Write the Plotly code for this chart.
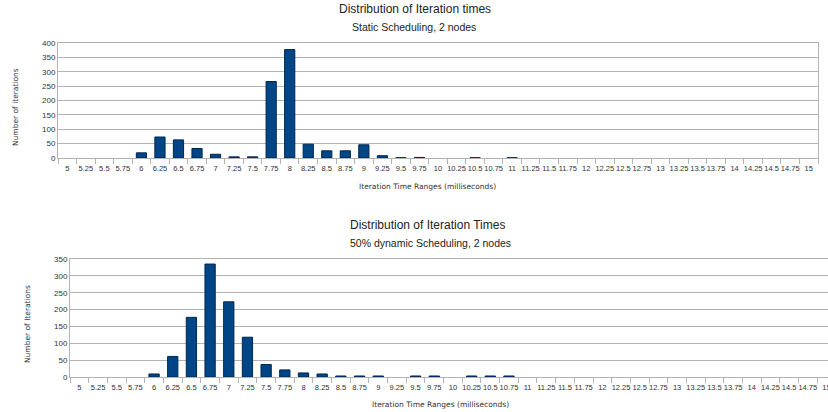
import plotly.graph_objects as go

categories = ["5", "5.25", "5.5", "5.75", "6", "6.25", "6.5", "6.75", "7", "7.25",
              "7.5", "7.75", "8", "8.25", "8.5", "8.75", "9", "9.25", "9.5", "9.75",
              "10", "10.25", "10.5", "10.75", "11", "11.25", "11.5", "11.75", "12", "12.25",
              "12.5", "12.75", "13", "13.25", "13.5", "13.75", "14", "14.25", "14.5", "14.75", "15"]

static_counts = [0, 0, 0, 0, 18, 73, 63, 33, 13, 4,
                 4, 266, 377, 48, 25, 25, 46, 8, 1, 2,
                 0, 0, 1, 0, 1, 0, 0, 0, 0, 0,
                 0, 0, 0, 0, 0, 0, 0, 0, 0, 0, 0]

dynamic_counts = [0, 0, 0, 0, 9, 61, 177, 335, 223, 118,
                  37, 21, 12, 9, 3, 3, 3, 0, 3, 3,
                  0, 3, 3, 3, 0, 0, 0, 0, 0, 0,
                  0, 0, 0, 0, 0, 0, 0, 0, 0, 0, 0]

top_title = "Distribution of Iteration times"
top_sub = "Static Scheduling, 2 nodes"
bot_title = "Distribution of Iteration Times"
bot_sub = "50% dynamic Scheduling, 2 nodes"
top_ytitle = "Number of iterations"
bot_ytitle = "Number of Iterations"
xtitle = "Iteration Time Ranges (milliseconds)"

W, H = 828, 412
BAR = "#004586"
GRID = "#b3b3b3"
FONT = "Liberation Sans, Arial, sans-serif"
TITLEFONT = "DejaVu Sans, sans-serif"

def px_x(a, b):
    return [a / W, min(b / W, 1.0)]

def px_y(top, bottom):
    return [1 - bottom / H, 1 - top / H]

def nz(vals):
    return [v if v > 0 else None for v in vals]

fig = go.Figure()
fig.add_trace(go.Bar(x=categories, y=nz(static_counts), xaxis="x", yaxis="y",
                     marker=dict(color=BAR, line=dict(color="#00264d", width=1)),
                     width=0.55, showlegend=False))
fig.add_trace(go.Bar(x=categories, y=nz(dynamic_counts), xaxis="x2", yaxis="y2",
                     marker=dict(color=BAR, line=dict(color="#00264d", width=1)),
                     width=0.55, showlegend=False))

xcommon = dict(type="category", tickmode="array", tickvals=categories, ticktext=categories,
               tickangle=0, ticks="outside", tickson="boundaries", ticklen=5,
               ticklabelstandoff=3,
               tickcolor=GRID, showgrid=False, showline=True, linecolor=GRID,
               tickfont=dict(family=FONT, size=7.5, color="#333333"),
               mirror=True, zeroline=False, automargin=False)
ycommon = dict(showgrid=True, gridcolor=GRID, gridwidth=1, dtick=50, tick0=0,
               showline=True, linecolor=GRID, mirror=True, ticks="",
               tickfont=dict(family=FONT, size=8, color="#333333"),
               zeroline=False, automargin=False)

fig.update_layout(
    width=W, height=H,
    margin=dict(l=0, r=0, t=0, b=0),
    paper_bgcolor="white", plot_bgcolor="white",
    bargap=0.45,
    font=dict(family=FONT, color="#222222"),
    xaxis=dict(domain=px_x(58, 818), anchor="y", range=[-0.5, 40.5], **xcommon),
    yaxis=dict(domain=px_y(43, 158), anchor="x", range=[0, 400], **ycommon),
    xaxis2=dict(domain=px_x(70, 828), anchor="y2", range=[-0.5, 40.08], **xcommon),
    yaxis2=dict(domain=px_y(259, 377), anchor="x2", range=[0, 350], **ycommon),
)

ann = []
def txt(x, y, s, size, angle=0, color="#222222", family=FONT):
    ann.append(dict(x=x / W, y=1 - y / H, xref="paper", yref="paper", text=s,
                    showarrow=False, xanchor="center", yanchor="middle",
                    textangle=angle, font=dict(family=family, size=size, color=color)))

txt(415, 9, top_title, 12)
txt(414, 27, top_sub, 10.5)
txt(15, 107, top_ytitle, 7.5, -90, "#333333", TITLEFONT)
txt(428, 186, xtitle, 7.5, 0, "#333333", TITLEFONT)
txt(428, 225, bot_title, 12)
txt(430, 243, bot_sub, 10.5)
txt(27, 324, bot_ytitle, 7.5, -90, "#333333", TITLEFONT)
txt(440, 404, xtitle, 7.5, 0, "#333333", TITLEFONT)
fig.update_layout(annotations=ann)

fig.write_html("out.html", config={"displayModeBar": False},
               post_script="document.body.style.margin='0';document.body.style.overflow='hidden';")
